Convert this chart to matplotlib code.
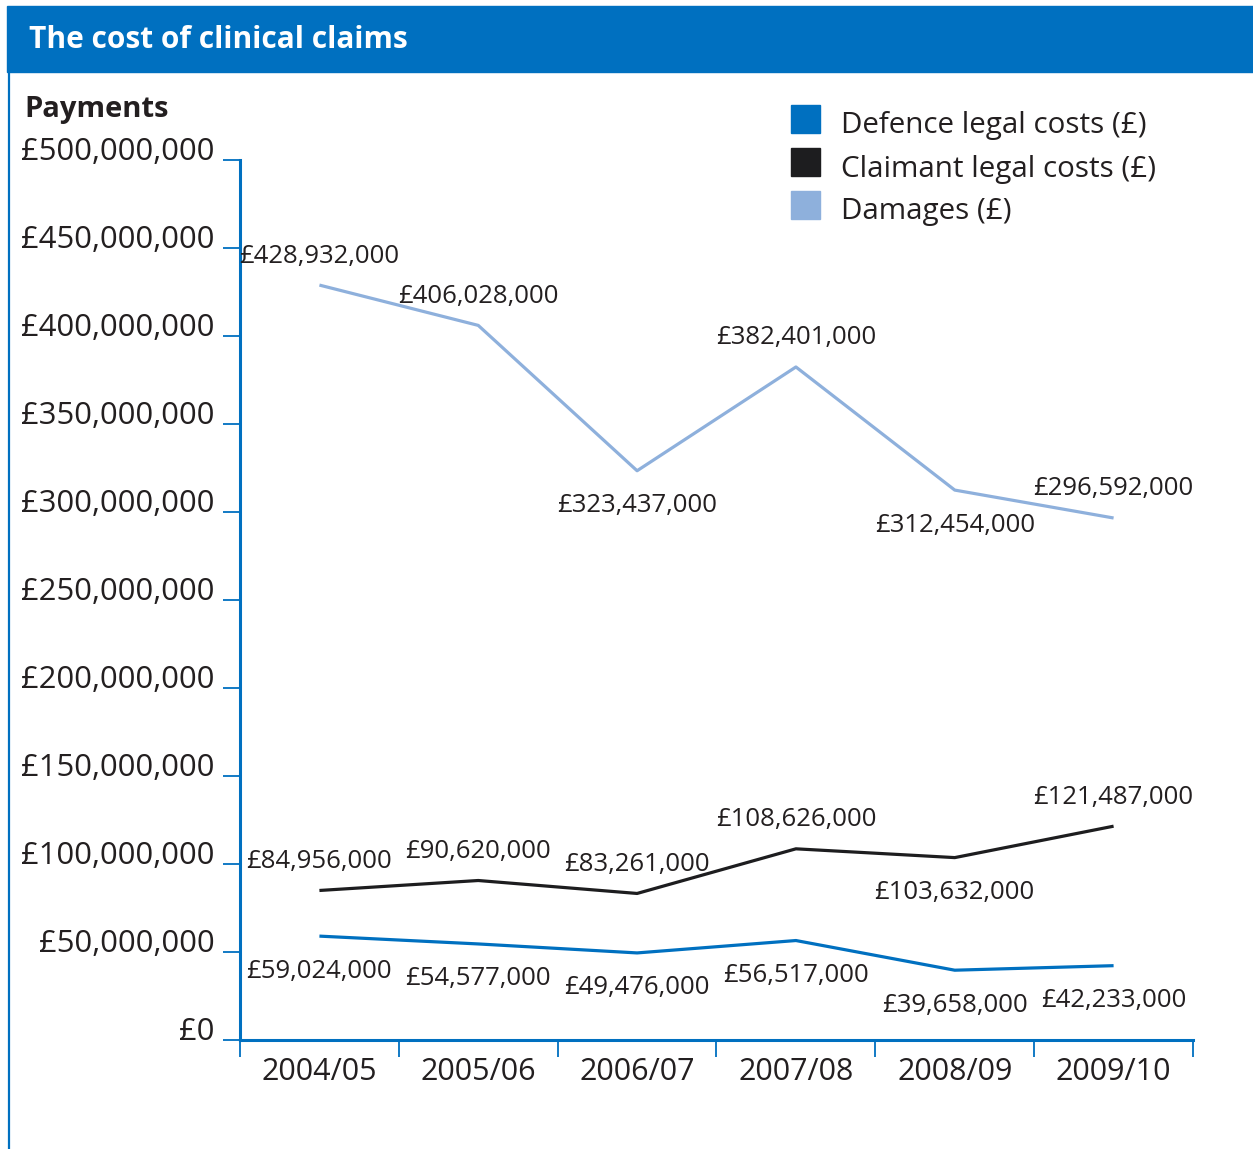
import matplotlib
matplotlib.use("Agg")
import matplotlib.pyplot as plt
from matplotlib.patches import Rectangle
from matplotlib.lines import Line2D
from matplotlib.ticker import FuncFormatter
import matplotlib.transforms as mtransforms

plt.rcParams["font.family"] = ["Open Sans", "DejaVu Sans"]

years = ["2004/05", "2005/06", "2006/07", "2007/08", "2008/09", "2009/10"]
defence = [59024000, 54577000, 49476000, 56517000, 39658000, 42233000]
claimant = [84956000, 90620000, 83261000, 108626000, 103632000, 121487000]
damages = [428932000, 406028000, 323437000, 382401000, 312454000, 296592000]

# label placement: +1 above the point, -1 below
defence_pos = [-1, -1, -1, -1, -1, -1]
claimant_pos = [1, 1, 1, 1, -1, 1]
damages_pos = [1, 1, -1, 1, -1, 1]

BLUE = "#0070c0"
DARK = "#1d1d1f"
LIGHT = "#8eb0dc"
TEXT = "#231f20"

W, H = 1253, 1149
fig = plt.figure(figsize=(W / 100, H / 100), dpi=100)

# title bar and left rule
fig.patches.append(Rectangle((7 / W, 1 - 72 / H), 1 - 7 / W, 66 / H,
                             transform=fig.transFigure, color=BLUE, zorder=0))
fig.lines.append(Line2D([8.5 / W, 8.5 / W], [0, 1 - 72 / H],
                        transform=fig.transFigure, color=BLUE, lw=1.6))
fig.text(29 / W, 1 - 40 / H, "The cost of clinical claims", color="white",
         fontsize=21.5, fontweight="bold", va="center", ha="left")
fig.text(24 / W, 1 - 109 / H, "Payments", color=TEXT, fontsize=21,
         fontweight="bold", va="center", ha="left")

ax = fig.add_axes([240 / W, 1 - 1040 / H, (1193 - 240) / W, 880 / H])
x = list(range(len(years)))

for vals, pos, col in [(damages, damages_pos, LIGHT),
                       (claimant, claimant_pos, DARK),
                       (defence, defence_pos, BLUE)]:
    ax.plot(x, vals, color=col, lw=2.3, solid_capstyle="butt")
    for xi, v, p in zip(x, vals, pos):
        off = 29 if p > 0 else -35
        ax.annotate(f"£{v:,}", (xi, v), xytext=(0, off),
                    textcoords="offset pixels", ha="center", va="center",
                    fontsize=18.5, color=TEXT)

ax.set_xlim(-0.5, 5.5)
ax.set_ylim(0, 500000000)
ax.set_yticks(range(0, 500000001, 50000000))
ax.yaxis.set_major_formatter(FuncFormatter(lambda v, _: f"£{int(v):,}"))
ax.set_xticks([i - 0.5 for i in range(7)])
ax.set_xticklabels([])
ax.set_xticks(x, minor=True)
ax.set_xticklabels(years, minor=True)
ax.tick_params(axis="x", which="minor", length=0, pad=12, labelsize=22,
               labelcolor=TEXT)
ax.tick_params(axis="x", which="major", length=12, width=1.3, color=BLUE)
ax.tick_params(axis="y", length=12, width=1.3, color=BLUE, pad=6,
               labelsize=22.3, labelcolor=TEXT)
shift = mtransforms.ScaledTranslation(0, 11 / 100, fig.dpi_scale_trans)
for lab in ax.get_yticklabels():
    lab.set_transform(lab.get_transform() + shift)

for s in ["top", "right"]:
    ax.spines[s].set_visible(False)
for s in ["left", "bottom"]:
    ax.spines[s].set_color(BLUE)
    ax.spines[s].set_linewidth(2.2)

# legend
legend_items = [("Defence legal costs (£)", BLUE),
                ("Claimant legal costs (£)", DARK),
                ("Damages (£)", LIGHT)]
for i, (lab, col) in enumerate(legend_items):
    yc = 119 + 43 * i
    fig.patches.append(Rectangle((791 / W, 1 - (yc + 14) / H), 29 / W, 28 / H,
                                 transform=fig.transFigure, color=col))
    fig.text(841 / W, 1 - (yc + 7) / H, lab, color=TEXT, fontsize=21.3,
             va="center", ha="left")

fig.savefig("out.png", dpi=100)
